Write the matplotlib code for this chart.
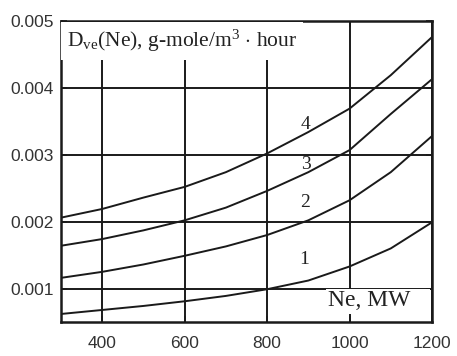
import matplotlib
matplotlib.use("Agg")
import matplotlib.pyplot as plt
from matplotlib.patches import Rectangle

# Data
ne = [300, 400, 500, 600, 700, 800, 900, 1000, 1100, 1200]
d1 = [0.00062, 0.00068, 0.00074, 0.00081, 0.00089, 0.00099, 0.00112, 0.00133, 0.00160, 0.00199]
d2 = [0.00116, 0.00125, 0.00136, 0.00149, 0.00163, 0.00180, 0.00202, 0.00232, 0.00274, 0.00328]
d3 = [0.00164, 0.00174, 0.00187, 0.00202, 0.00221, 0.00246, 0.00274, 0.00307, 0.00361, 0.00413]
d4 = [0.00206, 0.00219, 0.00236, 0.00252, 0.00274, 0.00302, 0.00334, 0.00369, 0.00419, 0.00476]
series = [d1, d2, d3, d4]
curve_labels = ["1", "2", "3", "4"]
label_pos = [(890, 0.00143), (893, 0.00228), (895, 0.00285), (893, 0.00345)]
xticks = [400, 600, 800, 1000, 1200]
yticks = [0.001, 0.002, 0.003, 0.004, 0.005]
ytick_labels = ["0.001", "0.002", "0.003", "0.004", "0.005"]

plt.rcParams['mathtext.fontset'] = 'custom'
plt.rcParams['mathtext.rm'] = 'Liberation Serif'
plt.rcParams['mathtext.it'] = 'Liberation Serif:italic'

fig = plt.figure(figsize=(4.57, 3.56), dpi=100)
ax = fig.add_axes([61/457, 1-322/356, (432-61)/457, (322-21)/356])

for s in series:
    ax.plot(ne, s, color='#1a1a1a', lw=1.4, zorder=3)

ax.set_xlim(300, 1200)
ax.set_ylim(0.0005, 0.005)
ax.set_xticks(xticks)
ax.set_xticklabels([str(v) for v in xticks])
ax.set_yticks(yticks)
ax.set_yticklabels(ytick_labels)
ax.grid(True, color='#1a1a1a', lw=1.4, zorder=1)
ax.set_axisbelow(True)
for sp in ax.spines.values():
    sp.set_linewidth(1.8)
    sp.set_color('#1a1a1a')
ax.tick_params(direction='in', length=4, width=1.2, top=True, right=True,
               labelsize=12.5, colors='#1a1a1a')
ax.tick_params(axis='x', pad=10)
ax.tick_params(axis='y', pad=5)
for lab in ax.get_xticklabels() + ax.get_yticklabels():
    lab.set_family(['Liberation Sans Narrow', 'Liberation Sans', 'DejaVu Sans'])
    lab.set_color('#333333')

for lab, (x, y) in zip(curve_labels, label_pos):
    ax.text(x, y, lab, family='Liberation Serif', fontsize=14, color='#222222',
            ha='center', va='center', zorder=4)

ax.text(0.016, 0.934, r"D$_{\mathrm{ve}}$(Ne), g-mole/m$^{3}$ $\cdot$ hour",
        transform=ax.transAxes, family='Liberation Serif', fontsize=15.5,
        color='#222222', ha='left', va='center', zorder=5,
        bbox=dict(facecolor='white', edgecolor='none', pad=4))

ax.add_patch(Rectangle((0.715, 0.025), 0.28, 0.083, transform=ax.transAxes,
                       facecolor='white', edgecolor='none', zorder=4))
ax.text(0.83, 0.07, "Ne, MW", transform=ax.transAxes, family='Liberation Serif',
        fontsize=17, color='#222222', ha='center', va='center', zorder=5)

fig.savefig("out.png", dpi=100)
